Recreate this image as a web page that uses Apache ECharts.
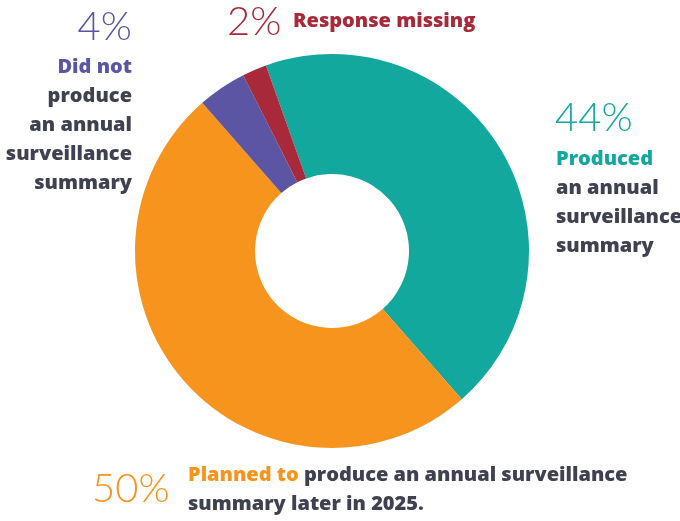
<!DOCTYPE html>
<html><head><meta charset="utf-8">
<script src="https://cdn.jsdelivr.net/npm/echarts@6/dist/echarts.min.js"></script>
<style>html,body{margin:0;padding:0;background:#fff}#c{width:680px;height:521px}</style>
</head><body><div id="c"></div>
<script>
const categories = ['Produced', 'Planned to', 'Did not', 'Response missing'];
const values = [44, 50, 4, 2];
const colors = ['#13a89e', '#f7941d', '#5b55a4', '#a8293a'];
const gray = '#3f4150';
const BIGFONT = 'Lato, "Open Sans", sans-serif';
const BOLDFONT = '"Open Sans", Lato, sans-serif';

const chart = echarts.init(document.getElementById('c'), null, {renderer: 'canvas'});
const pct = i => values[i] + '%';

function txt(x, y, text, rich, align) {
  return {type: 'text', x: x, y: y, style: {text: text, rich: rich, align: align || 'left', verticalAlign: 'top'}};
}
const big = c => ({fontSize: 40, fontWeight: 300, fill: c, fontFamily: BIGFONT, lineHeight: 44});
const bold = c => ({fontSize: 20, fontWeight: 800, fill: c, fontFamily: BOLDFONT, lineHeight: 29});

chart.setOption({
  backgroundColor: '#fff',
  animation: false,
  series: [{
    type: 'pie',
    center: [332, 251],
    radius: [77, 197],
    startAngle: 109.6,
    clockwise: true,
    label: {show: false},
    labelLine: {show: false},
    itemStyle: {borderWidth: 0},
    emphasis: {disabled: true},
    data: categories.map((n, i) => ({name: n, value: values[i], itemStyle: {color: colors[i]}}))
  }],
  graphic: [
    txt(132, 5, '{p|' + pct(2) + '}', {p: big(colors[2])}, 'right'),
    txt(132, 53, '{a|Did not}\n{b|produce}\n{b|an annual}\n{b|surveillance}\n{b|summary}', {a: bold(colors[2]), b: bold(gray)}, 'right'),
    txt(227, 0, '{p|' + pct(3) + '}', {p: big(colors[3])}, 'left'),
    txt(293, 7, '{a|Response missing}', {a: bold(colors[3])}, 'left'),
    txt(555, 96, '{p|' + pct(0) + '}', {p: big(colors[0])}, 'left'),
    txt(556, 145, '{a|Produced}\n{b|an annual}\n{b|surveillance}\n{b|summary}', {a: bold(colors[0]), b: bold(gray)}, 'left'),
    txt(92, 467, '{p|' + pct(1) + '}', {p: big(colors[1])}, 'left'),
    txt(188, 461, '{a|Planned to}{b| produce an annual surveillance}\n{b|summary later in 2025.}', {a: bold(colors[1]), b: bold(gray)}, 'left')
  ]
});
</script></body></html>
